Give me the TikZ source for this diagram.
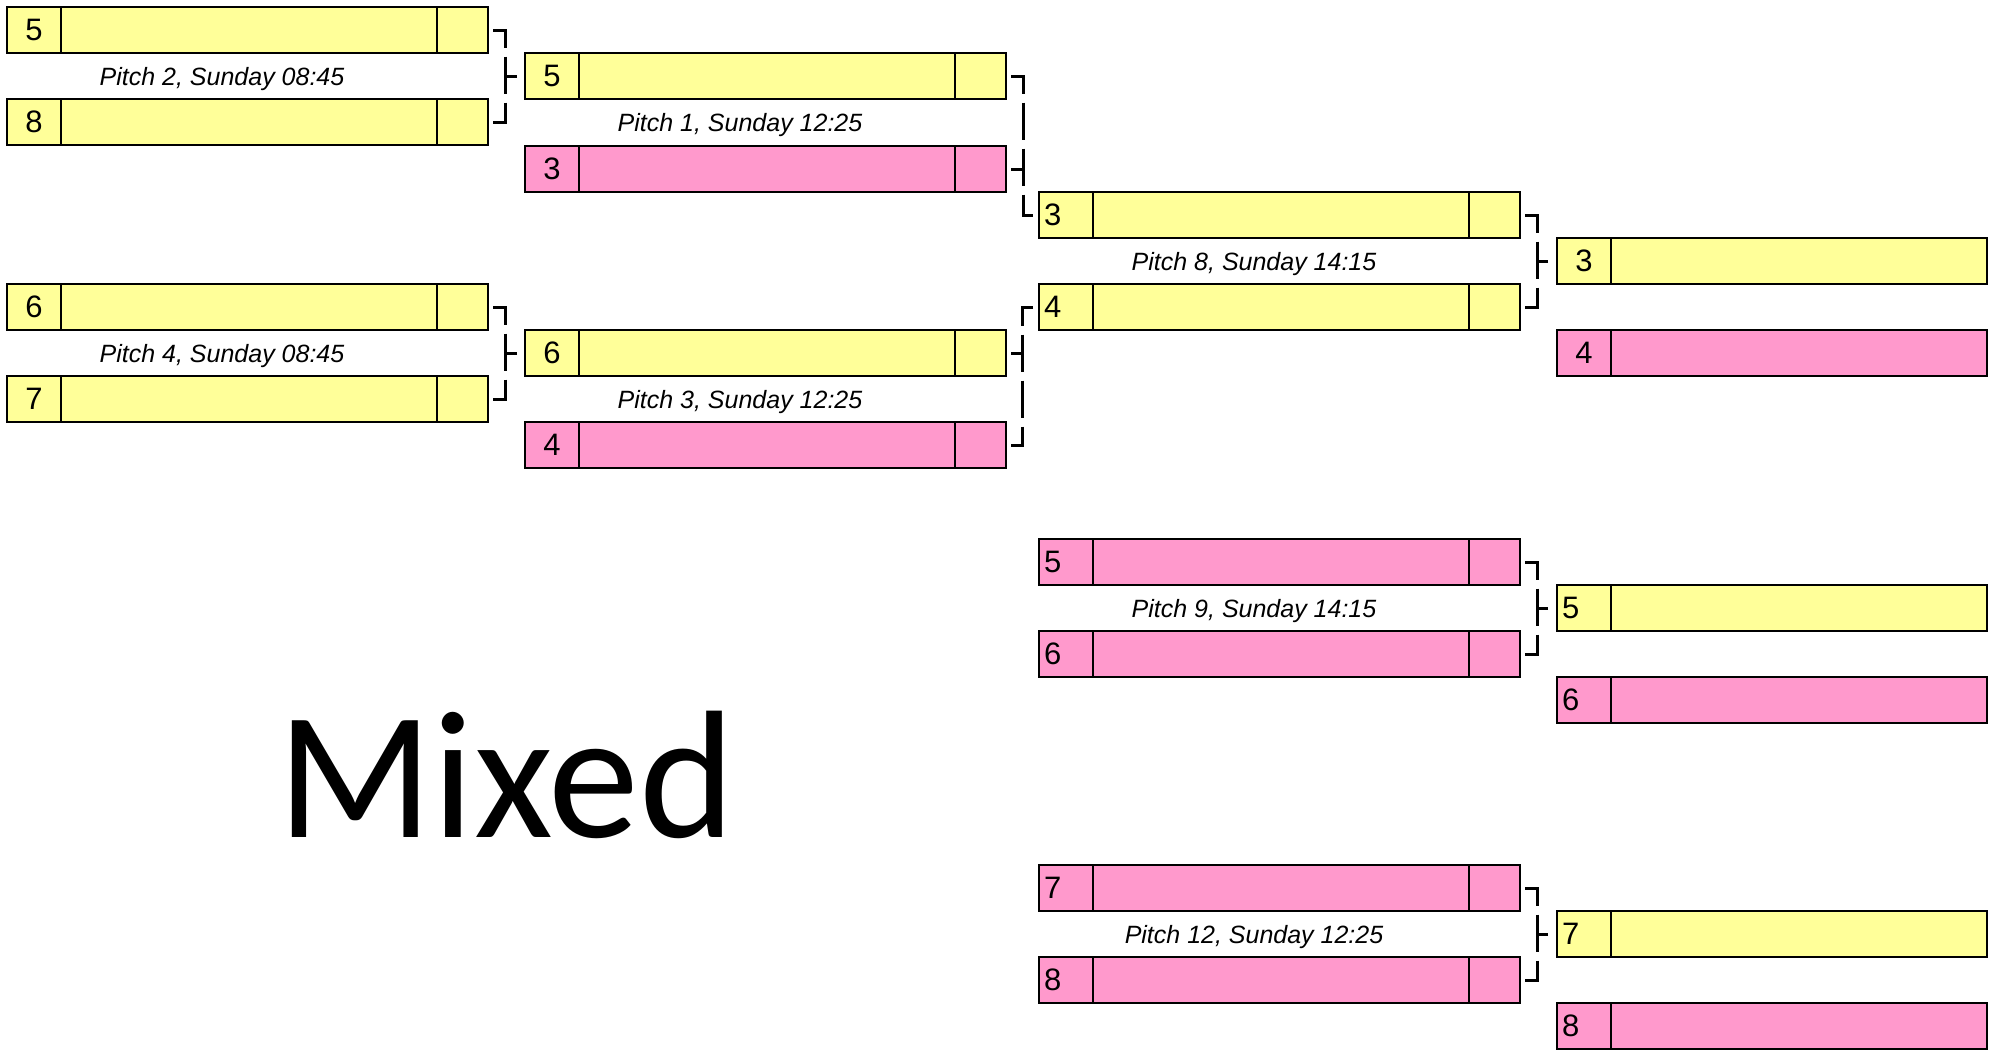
\documentclass[tikz,border=0pt]{standalone}
\usepackage{fontspec}
\setmainfont{Liberation Sans}
\newfontfamily\mixedfont{Carlito}
\usepackage{tikz}
\usetikzlibrary{positioning}
\usetikzlibrary{calc}
\definecolor{slotyellow}{RGB}{255,255,153}
\definecolor{slotpink}{RGB}{255,153,204}
% team slot: [number options]{name}{top left}{seed}{colour style}
\newcommand{\slotbox}[5][]{%
  \node [numcell, #5, anchor=north west, #1] (#2) at (#3) {#4};
  \node [namecell, #5, right=0pt of #2] (#2-n) {};
  \node [scorecell, #5, right=0pt of #2-n] (#2-s) {};
}
\newcommand{\finalbox}[5][]{%
  \node [numcell, #5, anchor=north west, #1] (#2) at (#3) {#4};
  \node [namecell, #5, right=0pt of #2] (#2-n) {};
}

\begin{document}
\begin{tikzpicture}[
	x=0.5pt, y=-0.5pt,
	cell/.style={
		draw,
		line width=1pt,
		rectangle,
		minimum height=23pt,
		inner sep=0pt,
		outer sep=0pt,
	},
	numcell/.style={
		cell,
		minimum width=27pt,
		font=\fontsize{15.5}{15.5}\selectfont,
	},
	numleft/.style={
		text width=22pt,
		inner xsep=2.5pt,
		align=left,
	},
	namecell/.style={
		cell,
		minimum width=188pt,
	},
	scorecell/.style={
		cell,
		minimum width=25.5pt,
	},
	ylw/.style={fill=slotyellow},
	pnk/.style={fill=slotpink},
	pitch/.style={
		font=\itshape\fontsize{12.5}{15}\selectfont,
		inner sep=0pt,
		yshift=-1.5pt,
	},
	bracket/.style={
		line width=1.5pt,
		dash pattern=on 18.75pt off 4.25pt,
		dash phase=3.75pt,
	},
	tick/.style={
		line width=1.5pt,
	},
]
\useasboundingbox (0,0) rectangle (1997,1051);

% round 1
\slotbox{r1a}{7,7}{5}{ylw}
\slotbox{r1b}{7,99}{8}{ylw}
\slotbox{r1c}{7,284}{6}{ylw}
\slotbox{r1d}{7,376}{7}{ylw}
\node [pitch] (p2) at ($(r1a.south west)!.5!(r1b-s.north west)$) {Pitch 2, Sunday 08:45};
\node [pitch] (p4) at ($(r1c.south west)!.5!(r1d-s.north west)$) {Pitch 4, Sunday 08:45};

% round 2
\slotbox{r2a}{525,53}{5}{ylw}
\slotbox{r2b}{525,146}{3}{pnk}
\slotbox{r2c}{525,330}{6}{ylw}
\slotbox{r2d}{525,422}{4}{pnk}
\node [pitch] (p1) at ($(r2a.south west)!.5!(r2b-s.north west)$) {Pitch 1, Sunday 12:25};
\node [pitch] (p3) at ($(r2c.south west)!.5!(r2d-s.north west)$) {Pitch 3, Sunday 12:25};

% round 3
\slotbox[numleft]{r3a}{1039,192}{3}{ylw}
\slotbox[numleft]{r3b}{1039,284}{4}{ylw}
\slotbox[numleft]{r3c}{1039,539}{5}{pnk}
\slotbox[numleft]{r3d}{1039,631}{6}{pnk}
\slotbox[numleft]{r3e}{1039,865}{7}{pnk}
\slotbox[numleft]{r3f}{1039,957}{8}{pnk}
\node [pitch] (p8) at ($(r3a.south west)!.5!(r3b-s.north west)$) {Pitch 8, Sunday 14:15};
\node [pitch] (p9) at ($(r3c.south west)!.5!(r3d-s.north west)$) {Pitch 9, Sunday 14:15};
\node [pitch] (p12) at ($(r3e.south west)!.5!(r3f-s.north west)$) {Pitch 12, Sunday 12:25};

% placings
\finalbox{r4a}{1557,238}{3}{ylw}
\finalbox{r4b}{1557,330}{4}{pnk}
\finalbox[numleft]{r4c}{1557,585}{5}{ylw}
\finalbox[numleft]{r4d}{1557,677}{6}{pnk}
\finalbox[numleft]{r4e}{1557,911}{7}{ylw}
\finalbox[numleft]{r4f}{1557,1003}{8}{pnk}

\node [font=\mixedfont\fontsize{91}{92}\selectfont, anchor=base, inner sep=0pt] (title) at (506,837) {Mixed};

% brackets
\draw [bracket] ([xshift=2.5pt]r1a-s.east) -- ++(12,0) |- ([xshift=2.5pt]r1b-s.east);
\draw [tick] ([xshift=-4pt]r2a.west) -- ++(-11,0);
\draw [bracket] ([xshift=2.5pt]r1c-s.east) -- ++(12,0) |- ([xshift=2.5pt]r1d-s.east);
\draw [tick] ([xshift=-4pt]r2c.west) -- ++(-11,0);

\draw [bracket] ([xshift=2.5pt]r2a-s.east) -- ++(12,0) |- ([xshift=-3pt]r3a.west);
\draw [tick] ([xshift=2.5pt]r2b-s.east) -- ++(12,0);
\draw [bracket] ([xshift=-3pt]r3b.west) -- ++(-11,0) |- ([xshift=2.5pt]r2d-s.east);
\draw [tick] ([xshift=2.5pt]r2c-s.east) -- ++(12,0);

\draw [bracket] ([xshift=2.5pt]r3a-s.east) -- ++(12,0) |- ([xshift=2.5pt]r3b-s.east);
\draw [tick] ([xshift=-4.5pt]r4a.west) -- ++(-11,0);
\draw [bracket] ([xshift=2.5pt]r3c-s.east) -- ++(12,0) |- ([xshift=2.5pt]r3d-s.east);
\draw [tick] ([xshift=-4.5pt]r4c.west) -- ++(-11,0);
\draw [bracket] ([xshift=2.5pt]r3e-s.east) -- ++(12,0) |- ([xshift=2.5pt]r3f-s.east);
\draw [tick] ([xshift=-4.5pt]r4e.west) -- ++(-11,0);
\end{tikzpicture}
\end{document}
